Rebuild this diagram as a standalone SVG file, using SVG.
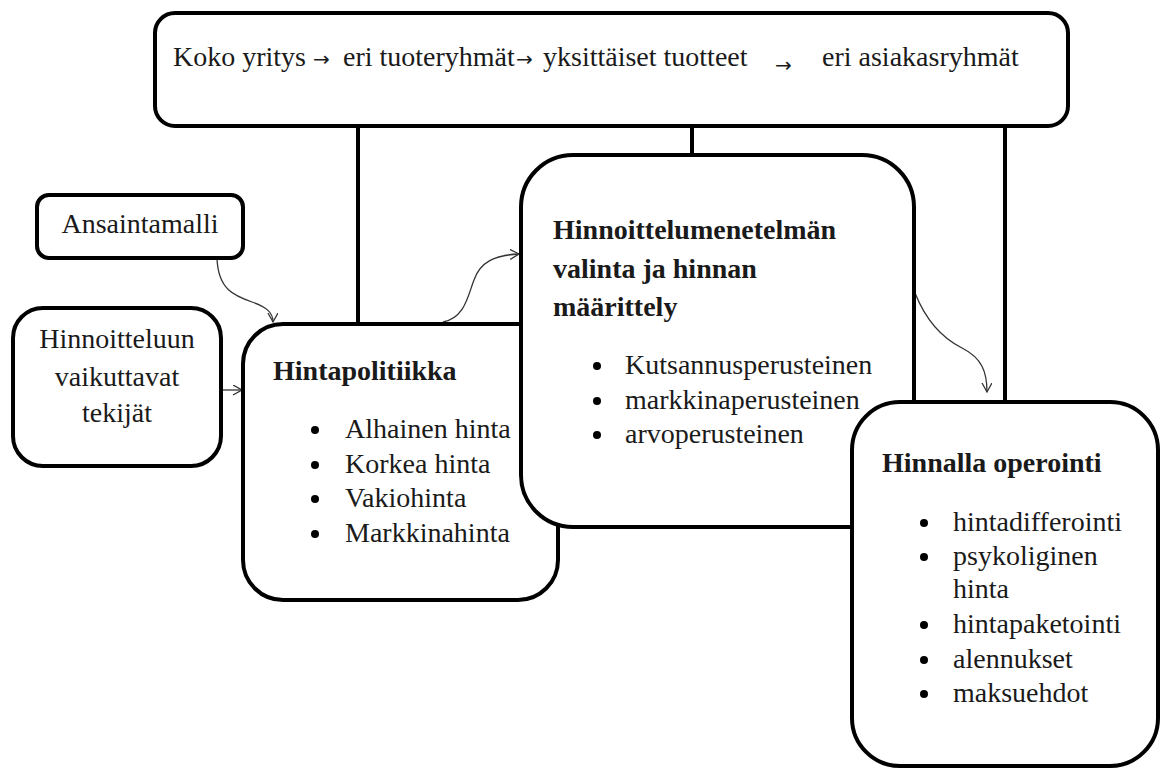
<svg xmlns="http://www.w3.org/2000/svg" width="1161" height="769" viewBox="0 0 1161 769">
<style>
.box{fill:#fff;stroke:#000;stroke-width:4}
.stem{stroke:#000;stroke-width:4;fill:none}
.conn{stroke:#333;stroke-width:1.3;fill:none}
.t{font-family:"Liberation Serif","Times New Roman",serif;font-size:28px;fill:#1a1a1a}
.b{font-family:"Liberation Serif","Times New Roman",serif;font-size:28px;font-weight:bold;fill:#1a1a1a}
.top{font-family:"Liberation Serif","Times New Roman",serif;font-size:28px;fill:#1a1a1a}
.arr{font-family:"DejaVu Sans",sans-serif;font-size:20px}
.dot{fill:#000}
</style>
<defs>
<marker id="open" markerWidth="12" markerHeight="12" refX="9" refY="5" orient="auto" markerUnits="userSpaceOnUse">
<path d="M0,0 L9,5 L0,10" fill="none" stroke="#333" stroke-width="1.3"/>
</marker>
</defs>
<g id="connectors">
<line class="stem" x1="358" y1="126" x2="358" y2="324"/>
<line class="stem" x1="692" y1="126" x2="692" y2="155"/>
<line class="stem" x1="1005" y1="126" x2="1005" y2="402"/>
<path class="conn" d="M217,258 C218,290 235,296 252,302 C266,307 273,312 273,322" marker-end="url(#open)"/>
<path class="conn" d="M221,390 L242,390" marker-end="url(#open)"/>
<path class="conn" d="M443,322 C465,318 468,295 474,280 C480,262 495,255 519,254" marker-end="url(#open)"/>
<path class="conn" d="M915,293 C925,318 940,337 962,348 C982,358 987,372 987,392" marker-end="url(#open)"/>
</g>
<g id="top">
<rect class="box" x="155" y="13" width="913" height="113" rx="20"/>
<text class="top" y="66"><tspan x="173">Koko yritys</tspan><tspan class="arr" x="313">→</tspan><tspan x="343">eri tuoteryhmät</tspan><tspan class="arr" x="516">→</tspan><tspan x="543">yksittäiset tuotteet</tspan><tspan class="arr" x="775" y="72">→</tspan><tspan x="822" y="66">eri asiakasryhmät</tspan></text>
</g>
<g id="ansaintamalli">
<rect class="box" x="37" y="195" width="206" height="63" rx="12"/>
<text class="t" x="140" y="233" text-anchor="middle">Ansaintamalli</text>
</g>
<g id="tekijat">
<rect class="box" x="13" y="308" width="208" height="158" rx="30"/>
<text class="t" x="117" y="348" text-anchor="middle">Hinnoitteluun</text>
<text class="t" x="117" y="386" text-anchor="middle">vaikuttavat</text>
<text class="t" x="117" y="422" text-anchor="middle">tekijät</text>
</g>
<g id="hintapolitiikka">
<rect class="box" x="243" y="324" width="315" height="276" rx="40"/>
<text class="b" x="273" y="380">Hintapolitiikka</text>
<circle class="dot" cx="315" cy="430" r="4"/><text class="t" x="345" y="438">Alhainen hinta</text>
<circle class="dot" cx="315" cy="465" r="4"/><text class="t" x="345" y="473">Korkea hinta</text>
<circle class="dot" cx="315" cy="499" r="4"/><text class="t" x="345" y="507">Vakiohinta</text>
<circle class="dot" cx="315" cy="534" r="4"/><text class="t" x="345" y="542">Markkinahinta</text>
</g>
<g id="menetelma">
<rect class="box" x="521" y="155" width="393" height="372" rx="52"/>
<text class="b" x="553" y="239">Hinnoittelumenetelmän</text>
<text class="b" x="553" y="278">valinta ja hinnan</text>
<text class="b" x="553" y="316">määrittely</text>
<circle class="dot" cx="597" cy="366" r="4"/><text class="t" x="625" y="374">Kutsannusperusteinen</text>
<circle class="dot" cx="597" cy="401" r="4"/><text class="t" x="625" y="409">markkinaperusteinen</text>
<circle class="dot" cx="597" cy="435" r="4"/><text class="t" x="625" y="443">arvoperusteinen</text>
</g>
<g id="operointi">
<rect class="box" x="852" y="402" width="306" height="364" rx="48"/>
<text class="b" x="882" y="472">Hinnalla operointi</text>
<circle class="dot" cx="924" cy="523" r="4"/><text class="t" x="953" y="531">hintadifferointi</text>
<circle class="dot" cx="924" cy="557" r="4"/><text class="t" x="953" y="565">psykoliginen</text>
<text class="t" x="953" y="598">hinta</text>
<circle class="dot" cx="924" cy="625" r="4"/><text class="t" x="953" y="633">hintapaketointi</text>
<circle class="dot" cx="924" cy="660" r="4"/><text class="t" x="953" y="668">alennukset</text>
<circle class="dot" cx="924" cy="694" r="4"/><text class="t" x="953" y="702">maksuehdot</text>
</g>
</svg>
